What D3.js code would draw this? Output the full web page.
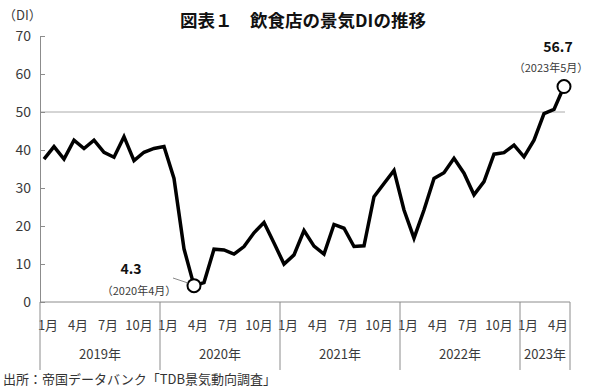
<!DOCTYPE html>
<html><head><meta charset="utf-8">
<script src="https://cdn.jsdelivr.net/npm/d3@7"></script>
<style>
body{margin:0;background:#fff;}
text{font-family:"Noto Sans CJK JP","Noto Sans",sans-serif;}
</style></head>
<body><svg id="c" width="600" height="390"></svg>
<script>
const years = ["2019年","2020年","2021年","2022年","2023年"];
const monthsPerYear = [12,12,12,12,5];
const tickMonths = ["1月","4月","7月","10月"];
const yTicks = [0,10,20,30,40,50,60,70];
const values = [
  37.6,40.9,37.6,42.6,40.4,42.6,39.4,38.1,43.5,37.2,39.4,40.4,
  40.9,32.5,14.0,4.3,5.1,13.9,13.7,12.6,14.6,18.2,20.9,15.5,
  10.0,12.4,18.8,14.7,12.6,20.4,19.4,14.6,14.8,27.7,31.2,34.6,
  24.2,16.8,24.2,32.5,34.0,37.8,33.9,28.2,31.7,38.9,39.3,41.3,
  38.2,42.6,49.6,50.7,56.7
];
const title = "図表１　飲食店の景気DIの推移";
const source = "出所：帝国データバンク「TDB景気動向調査」";

const svg = d3.select("#c");
const L=40, R=570, T=36, B=302;
const x = d3.scaleBand().domain(d3.range(values.length)).range([L,R]);
const y = d3.scaleLinear().domain([0,70]).range([B,T]);
const gray="#8c8c8c";
const txt="#3a3a3a";

// title
svg.append("text").attr("x",303).attr("y",27).attr("text-anchor","middle")
  .attr("font-size",17.5).attr("font-weight","bold").attr("fill","#111").text(title);
svg.append("text").attr("x",3).attr("y",20).attr("font-size",13).attr("fill",txt).text("（DI）");

// reference line at 50
svg.append("line").attr("x1",L).attr("x2",R-5).attr("y1",y(50)).attr("y2",y(50))
  .attr("stroke","#aaa").attr("stroke-width",1);

// y axis
const yAxis = d3.axisLeft(y).tickValues(yTicks).tickSize(-5).tickPadding(9);
const gy = svg.append("g").attr("transform",`translate(${L},0)`).call(yAxis);
gy.select(".domain").attr("stroke",gray);
gy.selectAll(".tick line").attr("stroke",gray);
gy.selectAll("text").attr("font-size",14).attr("fill",txt).attr("font-family","'Noto Sans CJK JP',sans-serif");

// x axis baseline
svg.append("line").attr("x1",L).attr("x2",R).attr("y1",B).attr("y2",B).attr("stroke",gray);

// month labels and year separators
let idx=0;
const bounds=[0];
years.forEach((yr,i)=>{
  const n=monthsPerYear[i];
  for(let m=0;m<n;m+=3){
    svg.append("text").attr("x",x(idx+m)+x.bandwidth()/2 + (m===9?4:3)).attr("y",B+28)
      .attr("text-anchor","middle").attr("font-size",13).attr("fill",txt).text(tickMonths[m/3]);
  }
  const x0=x(idx), x1=x(idx)+n*x.bandwidth();
  svg.append("text").attr("x",(x0+x1)/2).attr("y",B+57).attr("text-anchor","middle")
    .attr("font-size",13).attr("fill",txt).text(yr);
  idx+=n; bounds.push(idx);
});
bounds.forEach(b=>{
  const xx = b===values.length ? R : x(b);
  svg.append("line").attr("x1",xx).attr("x2",xx).attr("y1",B).attr("y2",B+68).attr("stroke",gray);
});

// line
const line = d3.line().x((d,i)=>x(i)+x.bandwidth()/2-1).y(d=>y(d));
svg.append("path").datum(values).attr("d",line).attr("fill","none")
  .attr("stroke","#000").attr("stroke-width",3.5).attr("stroke-linejoin","miter");

// highlight points
const minI = values.indexOf(d3.min(values));
const lastI = values.length-1;
[minI,lastI].forEach(i=>{
  svg.append("circle").attr("cx",x(i)+x.bandwidth()/2-1).attr("cy",y(values[i])).attr("r",6.5)
    .attr("fill","#fff").attr("stroke","#000").attr("stroke-width",2);
});
// leader
svg.append("line").attr("x1",173).attr("y1",278).attr("x2",188).attr("y2",283).attr("stroke","#888").attr("stroke-width",1);

// annotations
svg.append("text").attr("x",131).attr("y",274).attr("text-anchor","middle").attr("font-size",14)
  .attr("font-weight","bold").attr("fill","#111").text(values[minI].toFixed(1));
svg.append("text").attr("x",139).attr("y",295).attr("text-anchor","middle").attr("font-size",11)
  .attr("fill",txt).text("（2020年4月）");
svg.append("text").attr("x",558).attr("y",52).attr("text-anchor","middle").attr("font-size",14)
  .attr("font-weight","bold").attr("fill","#111").text(values[lastI].toFixed(1));
svg.append("text").attr("x",551).attr("y",72).attr("text-anchor","middle").attr("font-size",11)
  .attr("fill",txt).text("（2023年5月）");

svg.append("text").attr("x",3).attr("y",384).attr("font-size",13).attr("fill","#333").text(source);
</script></body></html>
